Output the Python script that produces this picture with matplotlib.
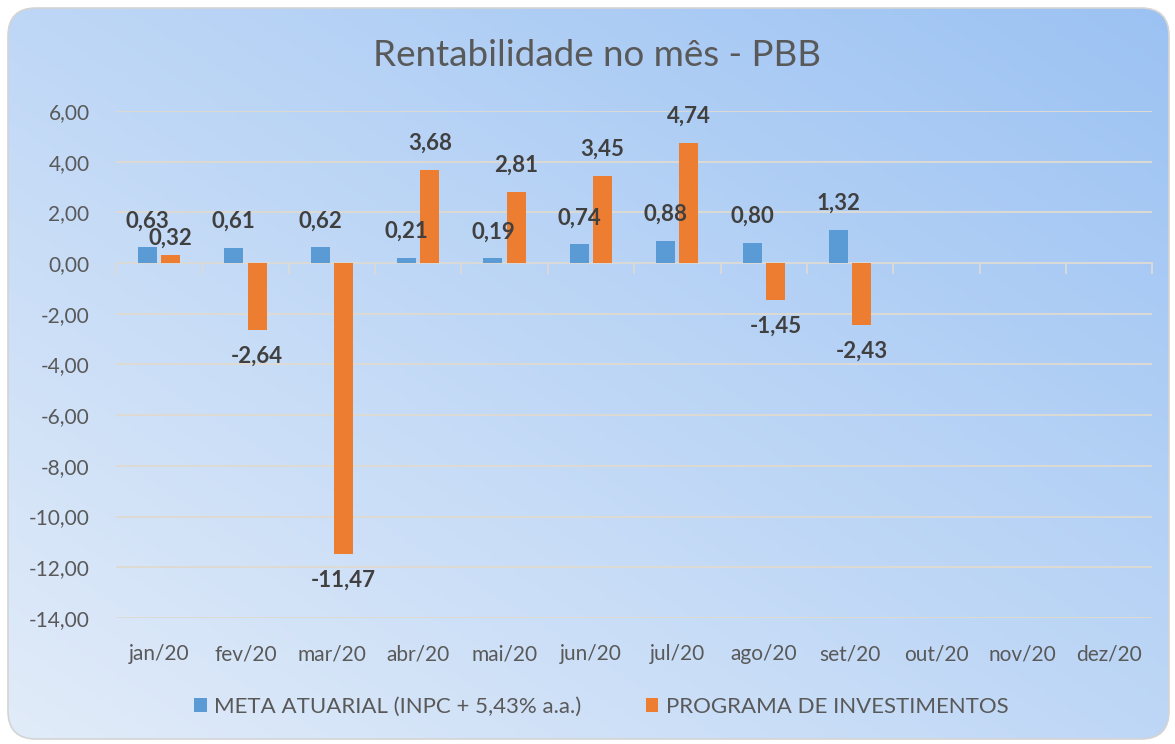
import numpy as np
import matplotlib.pyplot as plt
from matplotlib.patches import FancyBboxPatch
from matplotlib.colors import to_rgb
from matplotlib.ticker import FuncFormatter

meses = ["jan/20", "fev/20", "mar/20", "abr/20", "mai/20", "jun/20",
         "jul/20", "ago/20", "set/20", "out/20", "nov/20", "dez/20"]
meta = [0.63, 0.61, 0.62, 0.21, 0.19, 0.74, 0.88, 0.80, 1.32]
programa = [0.32, -2.64, -11.47, 3.68, 2.81, 3.45, 4.74, -1.45, -2.43]
serie_meta = "META ATUARIAL (INPC + 5,43% a.a.)"
serie_prog = "PROGRAMA DE INVESTIMENTOS"
y_ticks = [-14, -12, -10, -8, -6, -4, -2, 0, 2, 4, 6]

plt.rcParams['font.family'] = ['Lato', 'DejaVu Sans']

AZUL = '#5B9BD5'
LARANJA = '#ED7D31'

fig = plt.figure(figsize=(11.75, 7.44), dpi=100)

# fundo com gradiente e cantos arredondados
bg = fig.add_axes([0, 0, 1, 1])
bg.axis('off')
bg.set_xlim(0, 1175)
bg.set_ylim(0, 744)
xx, yy = np.meshgrid(np.linspace(0, 1, 300), np.linspace(0, 1, 200))
t = xx * 0.5 + yy * 0.5
c0 = np.array(to_rgb('#E2ECF9'))
c1 = np.array(to_rgb('#9BC2F3'))
img = c0 + t[..., None] * (c1 - c0)
im = bg.imshow(img, extent=[0, 1175, 0, 744], origin='lower', aspect='auto')
box = FancyBboxPatch((8, 5), 1161, 731, boxstyle="round,pad=0,rounding_size=28",
                     transform=bg.transData, fc='none', ec='#D4D4D4', lw=1.2)
bg.add_patch(box)
im.set_clip_path(box)

ax = fig.add_axes([0.0987, 0.1694, 0.882, 0.6814])
ax.set_facecolor('none')

x = np.arange(len(meses))
w = 0.22
off = 0.135
b1 = ax.bar(x[:len(meta)] - off, meta, w, color=AZUL, label=serie_meta, zorder=3)
b2 = ax.bar(x[:len(programa)] + off, programa, w, color=LARANJA, label=serie_prog, zorder=3)

def rotulo(r, v, dy):
    ax.annotate(f"{v:.2f}".replace('.', ','), (r.get_x() + r.get_width() / 2, v),
                xytext=(0, dy), textcoords='offset points', ha='center', va='center',
                fontsize=16, fontweight='bold', color='#404040', zorder=4)

for r, v in zip(b1, meta):
    rotulo(r, v, 19 if v >= 0 else -19)
for i, (r, v) in enumerate(zip(b2, programa)):
    if v < 0:
        dy = -19
    elif abs(v - meta[i]) < 1:
        dy = 12  # evita sobrepor o rótulo da meta
    else:
        dy = 19
    rotulo(r, v, dy)

ax.set_xlim(-0.5, len(meses) - 0.5)
ax.set_ylim(-14, 6)
ax.set_yticks(y_ticks)
ax.yaxis.set_major_formatter(FuncFormatter(lambda v, p: f"{v:.2f}".replace('.', ',')))
ax.tick_params(axis='y', length=0, pad=19, labelsize=15, labelcolor='#595959')
ax.yaxis.grid(True, color='#DDDAD3', lw=1.4)
ax.set_axisbelow(True)

for s in ('top', 'right', 'left'):
    ax.spines[s].set_visible(False)
ax.spines['bottom'].set_position(('data', 0))
ax.spines['bottom'].set_color('#D9D9D9')
ax.spines['bottom'].set_linewidth(1.4)
ax.set_xticks(np.arange(-0.5, len(meses), 1))
ax.set_xticklabels([])
ax.tick_params(axis='x', length=8, width=1.4, color='#D9D9D9', direction='out')

sec = ax.secondary_xaxis('bottom')
sec.set_xticks(x, meses)
sec.tick_params(length=0, pad=19, labelsize=15, labelcolor='#595959')
sec.spines['bottom'].set_visible(False)

fig.text(0.508, 0.926, "Rentabilidade no mês - PBB", ha='center', va='center',
         fontsize=26.5, color='#595959')

fig.legend(handles=[b1, b2], loc='center', bbox_to_anchor=(0.512, 0.05), ncol=2,
           frameon=False, fontsize=16, handlelength=0.55, handleheight=0.55,
           handletextpad=0.35, columnspacing=2.9, labelcolor='#595959')

fig.savefig('out.png', dpi=100)
